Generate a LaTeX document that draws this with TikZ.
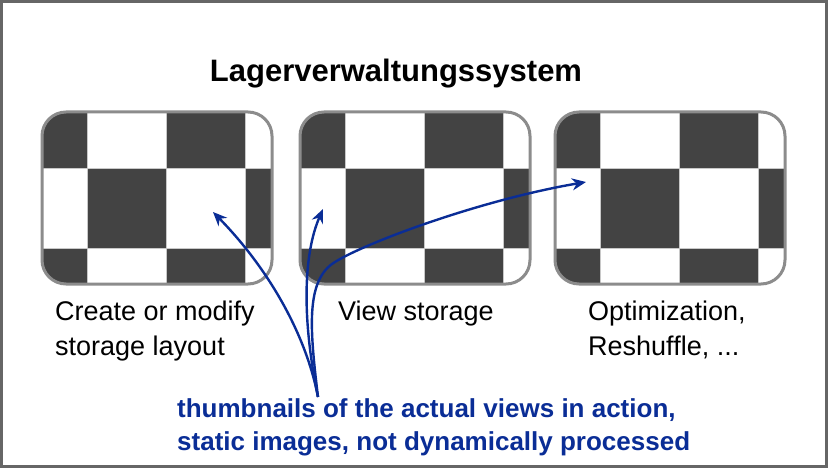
\documentclass[tikz,border=0pt]{standalone}
\usepackage{fontspec}
\setmainfont{Liberation Sans}
\usetikzlibrary{arrows.meta}
\definecolor{darkcell}{HTML}{434343}
\definecolor{frameg}{HTML}{8C8C8C}
\definecolor{gridg}{HTML}{C8C8C8}
\definecolor{outerg}{HTML}{666666}
\definecolor{arrowblue}{HTML}{0A2D96}
\tikzset{
  thumb/.style={draw=frameg, line width=3pt, rounded corners=24pt,
    minimum width=230pt, minimum height=172pt, inner sep=0pt, outer sep=0pt, anchor=north west},
  cell/.style={fill=darkcell, sharp corners},
  lbl/.style={anchor=base west, inner sep=0pt, align=left, font=\fontsize{27}{35}\selectfont},
  conn/.style={draw=arrowblue, line width=2.4pt, -{Stealth[length=14pt,width=12pt]}},
}
\newcommand\checkerfill[2]{%
  \begin{scope}
    \clip[rounded corners=24pt] (#1,#2) rectangle ++(230,172);
    \begin{scope}[shift={(#1,#2)}]
      \fill[white] (0,0) rectangle (230,172);
      \fill[cell] (0,0) rectangle (45,57);
      \fill[cell] (124,0) rectangle (203,57);
      \fill[cell] (45,57) rectangle (124,136);
      \fill[cell] (203,57) rectangle (230,136);
      \fill[cell] (0,136) rectangle (45,172);
      \fill[cell] (124,136) rectangle (203,172);
      \draw[gridg, line width=1pt] (45,0) -- (45,172) (124,0) -- (124,172) (203,0) -- (203,172)
        (0,57) -- (230,57) (0,136) -- (230,136);
    \end{scope}
  \end{scope}}
\begin{document}
\begin{tikzpicture}[x=1pt,y=-1pt]
  \useasboundingbox (0,0) rectangle (828,468);
  \fill[white] (0,0) rectangle (828,468);
  \draw[outerg, line width=3pt] (1.5,1.5) rectangle (826.5,466.5);

  \node[font=\bfseries\fontsize{31}{37}\selectfont, anchor=base, inner sep=0pt] (title) at (396,82) {Lagerverwaltungssystem};

  \checkerfill{42}{112}
  \checkerfill{300}{112}
  \checkerfill{555}{112}
  \node[thumb] (t1) at (42,112) {};
  \node[thumb] (t2) at (300,112) {};
  \node[thumb] (t3) at (555,112) {};

  \node[lbl] (l1) at (55,355) {Create or modify\\storage layout};
  \node[lbl] (l2) at (338,320) {View storage};
  \node[lbl] (l3) at (588,355) {Optimization,\\Reshuffle, ...};

  \node[anchor=base west, inner sep=0pt, align=left, text=arrowblue,
        font=\bfseries\fontsize{26}{33}\selectfont] (note) at (177,450)
        {thumbnails of the actual views in action,\\static images, not dynamically processed};

  \coordinate (src) at (318,397);
  \coordinate (p1) at (213,212);
  \coordinate (p2) at (323,209);
  \coordinate (p3) at (586,182);
  \coordinate (m3) at (335,262);

  \draw[conn] (src) .. controls (305,330) and (265,265) .. (p1);
  \draw[conn] (src) .. controls (302,320) and (303,255) .. (p2);
  \draw[conn] (src) .. controls (310,330) and (305,280) .. (m3)
                    .. controls (365,243) and (480,200) .. (p3);
\end{tikzpicture}
\end{document}
